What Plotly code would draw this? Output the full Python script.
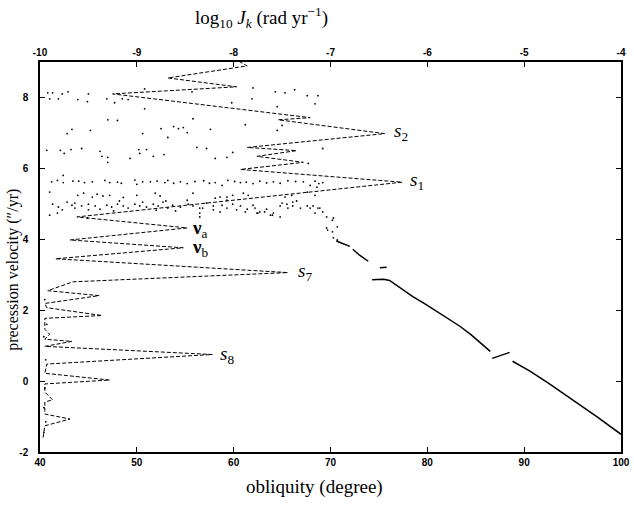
import plotly.graph_objects as go

# ---------------- data ----------------
# dashed spectrum curve: obliquity-equivalent x (log10 Jk mapped to bottom axis), frequency y
curve_x = [60.0, 61.4, 53.2, 60.3, 47.5, 67.9, 64.6, 75.6, 61.4, 66.5, 62.4, 67.2, 60.7, 77.4,
           43.8, 55.2, 43.1, 54.8, 41.6, 65.6, 43.4, 40.8, 46.1, 40.5, 40.7, 46.4, 40.5, 40.5,
           41.0, 40.5, 43.3, 40.5, 57.8, 40.7, 40.5, 47.2, 40.5, 40.5, 41.3, 40.5, 40.5, 43.1,
           40.5, 40.3]
curve_y = [9.1, 8.89, 8.55, 8.30, 8.10, 7.43, 7.37, 6.98, 6.59, 6.50, 6.34, 6.17, 5.97, 5.61,
           4.63, 4.32, 3.98, 3.76, 3.45, 3.06, 2.80, 2.55, 2.41, 2.19, 2.07, 1.85, 1.77, 1.46,
           1.32, 1.18, 1.12, 0.98, 0.75, 0.48, 0.22, 0.03, -0.08, -0.31, -0.53, -0.59, -0.93, -1.07,
           -1.26, -1.63]

# scattered (chaotic) precession velocities
dot_x = [
    # upper sparse
    40.8, 41.3, 42.3, 42.9, 45.0, 41.0, 41.9, 43.9, 44.9, 46.9, 47.7, 48.5, 49.1, 50.8, 50.8,
    55.7, 59.8, 62.0, 64.3, 65.3, 66.3, 67.6, 68.7, 68.4, 61.9, 64.5,
    # middle sparse
    47.0, 48.0, 55.8, 43.3, 42.8, 45.2, 50.6, 52.5, 53.8, 54.3, 54.8, 55.2, 57.6, 53.2, 61.2,
    65.0, 64.5,
    # row ~6.4
    40.7, 42.1, 42.5, 43.2, 44.3, 46.2, 46.4, 47.0, 47.0, 49.3, 50.2, 51.0, 50.3, 51.7, 52.8,
    56.2, 57.2, 58.1, 59.3, 59.9, 69.2, 67.7,
    # row ~5.6
    41.2, 41.8, 42.4, 43.4, 44.6, 45.4, 46.7, 48.0, 48.4, 49.8, 50.0, 51.4, 52.1, 52.9, 53.2,
    53.8, 54.5, 55.2, 56.0, 56.9, 58.1, 58.8, 60.1, 60.7, 62.0, 62.7, 64.1, 64.8, 65.6, 67.2,
    67.9, 68.4, 69.2, 44.0, 47.2, 50.6, 57.5, 59.4, 61.3, 63.4, 66.4, 68.8, 42.4,
    # row ~5.25
    41.0, 43.9, 45.4, 45.9, 46.5, 47.2, 50.0, 51.9, 52.4, 55.8, 58.1, 58.6, 59.3, 59.9, 61.0,
    61.5, 65.3, 66.0, 67.6, 68.4, 68.6, 44.5, 48.6,
    # dense band ~4.95
    41.3, 41.9, 42.8, 43.3, 43.6, 44.3, 45.0, 45.7, 46.2, 46.9, 47.4, 48.0, 48.6, 49.1, 49.8,
    50.3, 51.0, 51.7, 52.2, 52.7, 53.2, 53.7, 54.5, 55.3, 55.8, 56.5, 57.2, 57.9, 58.8, 59.3,
    59.9, 60.7, 61.4, 62.0, 62.7, 63.4, 64.1, 64.8, 65.5, 66.1, 66.5, 66.9, 67.6, 68.2, 68.9,
    69.2,
    56.8, 57.9, 58.6, 60.3, 61.2, 62.2, 62.5, 63.2, 64.0, 65.6, 67.9, 68.4, 68.7, 65.0, 66.1,
    59.3, 41.8, 42.3, 43.6, 48.2, 50.6, 53.0, 55.2, 45.0, 47.6, 52.0, 54.0,
    # lower + tail
    41.0, 56.5, 56.5, 62.4, 63.8, 64.8, 69.6, 70.3, 70.7, 44.9, 70.2, 69.6, 69.7, 70.2, 70.3,
    70.7,
    # near left axis
    40.5, 40.7, 40.4, 40.6, 40.5, 40.4, 40.6, 40.4,
]
dot_y = [
    8.13, 8.13, 8.10, 8.16, 8.10, 7.96, 7.96, 7.94, 7.88, 7.96, 7.85, 7.96, 7.94, 8.24, 7.68,
    8.16, 7.85, 8.27, 8.16, 8.13, 8.22, 8.05, 8.05, 7.82, 7.96, 7.74,
    7.37, 7.35, 7.40, 7.10, 6.98, 7.07, 6.98, 7.12, 7.18, 7.12, 7.15, 7.01, 7.10, 6.87, 7.23,
    7.21, 7.07,
    6.51, 6.51, 6.42, 6.53, 6.56, 6.48, 6.34, 6.31, 6.17, 6.28, 6.53, 6.53, 6.42, 6.34, 6.39,
    6.59, 6.56, 6.28, 6.31, 6.45, 6.56, 6.14,
    5.62, 5.66, 5.60, 5.64, 5.60, 5.62, 5.66, 5.61, 5.58, 5.67, 5.55, 5.62, 5.64, 5.60, 5.66,
    5.58, 5.62, 5.57, 5.63, 5.65, 5.60, 5.52, 5.63, 5.60, 5.57, 5.64, 5.62, 5.58, 5.65, 5.62,
    5.52, 5.64, 5.60, 5.64, 5.60, 5.62, 5.58, 5.66, 5.61, 5.59, 5.63, 5.57, 5.80,
    5.33, 5.24, 5.19, 5.27, 5.22, 5.24, 5.24, 5.30, 5.22, 5.30, 5.16, 5.19, 5.19, 5.24, 5.30,
    5.24, 5.19, 5.24, 5.33, 5.24, 5.47, 5.30, 5.18,
    4.99, 4.91, 5.05, 4.96, 4.88, 4.94, 4.99, 4.94, 4.85, 4.96, 4.91, 4.99, 4.94, 4.88, 4.99,
    4.94, 4.91, 4.99, 4.94, 5.05, 4.88, 4.96, 4.91, 4.99, 4.94, 4.88, 5.02, 4.94, 4.96, 4.88,
    4.99, 4.94, 4.85, 4.96, 4.77, 4.85, 4.74, 4.94, 4.99, 4.94, 5.08, 4.88, 4.94, 4.94, 4.88,
    4.77,
    4.88, 4.83, 4.77, 4.83, 4.77, 4.88, 4.74, 4.77, 4.68, 4.88, 4.88, 4.74, 4.88, 5.02, 5.05,
    5.10, 4.74, 4.83, 5.02, 5.08, 5.05, 5.08, 5.10, 4.83, 4.80, 4.82, 4.80,
    4.68, 4.74, 4.63, 4.74, 4.68, 4.63, 4.63, 4.60, 4.35, 4.60, 4.54, 4.32, 4.26, 4.21, 4.04,
    3.98,
    2.30, 1.60, 1.25, 0.60, -0.20, -0.75, -1.15, -1.45,
]

# regular precession branch (solid line, gaps where it breaks)
line_x = [70.6, 71.3, 72.0, None, 72.3, 73.0, 73.9, None, 75.1, 75.8, None,
          74.3, 75.5, 76.1, 76.5, 77.5, 78.5, 79.8, 81.0, 82.2, 83.4, 84.5, 85.4, 86.5, None,
          86.7, 87.5, 88.5, None, 88.8, 90.6, 92.5, 95.0, 97.5, 100.0]
line_y = [3.95, 3.88, 3.80, None, 3.72, 3.55, 3.38, None, 3.20, 3.21, None,
          2.86, 2.87, 2.84, 2.76, 2.57, 2.38, 2.17, 1.96, 1.75, 1.54, 1.31, 1.09, 0.84, None,
          0.64, 0.71, 0.81, None, 0.56, 0.28, -0.06, -0.52, -1.00, -1.50]

x_ticks = [40, 50, 60, 70, 80, 90, 100]
x_ticklabels = ["40", "50", "60", "70", "80", "90", "100"]
top_ticks = [-10, -9, -8, -7, -6, -5, -4]
top_ticklabels = ["-10", "-9", "-8", "-7", "-6", "-5", "-4"]
y_ticks = [-2, 0, 2, 4, 6, 8]
y_ticklabels = ["-2", "0", "2", "4", "6", "8"]

# peak labels: (text, x, y)
peak_labels = [
    ("<i>s</i><sub>2</sub>", 76.4, 7.03),
    ("<i>s</i><sub>1</sub>", 78.0, 5.63),
    ("<i>s</i><sub>7</sub>", 66.4, 3.08),
    ("<i>s</i><sub>8</sub>", 58.4, 0.75),
    ("<b>ν</b><sub>a</sub>", 55.5, 4.30),
    ("<b>ν</b><sub>b</sub>", 55.5, 3.76),
]

# ---------------- figure ----------------
fig = go.Figure()
fig.add_trace(go.Scatter(x=curve_x, y=curve_y, mode="lines",
                         line=dict(color="black", width=1, dash="4px,2px"),
                         hoverinfo="skip"))
fig.add_trace(go.Scatter(x=dot_x, y=dot_y, mode="markers",
                         marker=dict(color="black", size=1.8, line=dict(width=0)),
                         hoverinfo="skip"))
fig.add_trace(go.Scatter(x=line_x, y=line_y, mode="lines", connectgaps=False,
                         line=dict(color="black", width=1.5), hoverinfo="skip"))
fig.add_trace(go.Scatter(x=[top_ticks[0], top_ticks[-1]], y=[0, 0], xaxis="x2",
                         mode="markers", marker=dict(opacity=0), hoverinfo="skip"))

tickfont = dict(family="Liberation Sans, Arial", size=10, color="black", weight="bold")
axis_common = dict(showgrid=False, zeroline=False, showline=True, linecolor="black",
                   linewidth=1.5, ticks="inside", ticklen=5, tickwidth=1,
                   tickcolor="black", tickfont=tickfont, automargin=False)

fig.update_layout(
    width=634, height=515,
    margin=dict(l=40, r=13, t=62, b=63),
    paper_bgcolor="white", plot_bgcolor="white",
    showlegend=False,
    xaxis=dict(range=[40, 100], tickvals=x_ticks, ticktext=x_ticklabels,
               mirror=True, **axis_common),
    xaxis2=dict(range=[-10, -4], overlaying="x", side="top", tickvals=top_ticks,
                ticktext=top_ticklabels, **axis_common),
    yaxis=dict(range=[-2, 9], tickvals=y_ticks, ticktext=y_ticklabels,
               mirror="ticks", ticklabelstandoff=8, **axis_common),
)

serif = "Liberation Serif, DejaVu Serif, serif"
annos = []
for txt, ax, ay in peak_labels:
    annos.append(dict(x=ax, y=ay, xref="x", yref="y", text=txt, showarrow=False,
                      xanchor="left", yanchor="middle",
                      font=dict(family=serif, size=19, color="black")))
annos.append(dict(x=0.382, y=1.115, xref="paper", yref="paper",
                  text="log<sub>10</sub> <i>J<sub>k</sub></i> (rad yr<sup>−1</sup>)",
                  showarrow=False, xanchor="center", yanchor="middle",
                  font=dict(family=serif, size=19, color="black")))
annos.append(dict(x=0.472, y=-0.09, xref="paper", yref="paper",
                  text="obliquity (degree)", showarrow=False,
                  xanchor="center", yanchor="middle",
                  font=dict(family=serif, size=19, color="black")))
annos.append(dict(x=-0.0465, y=0.467, xref="paper", yref="paper",
                  text="precession velocity (″/yr)", showarrow=False, textangle=-90,
                  xanchor="center", yanchor="middle",
                  font=dict(family=serif, size=16, color="black")))
fig.update_layout(annotations=annos)

fig.write_html("out.html")
